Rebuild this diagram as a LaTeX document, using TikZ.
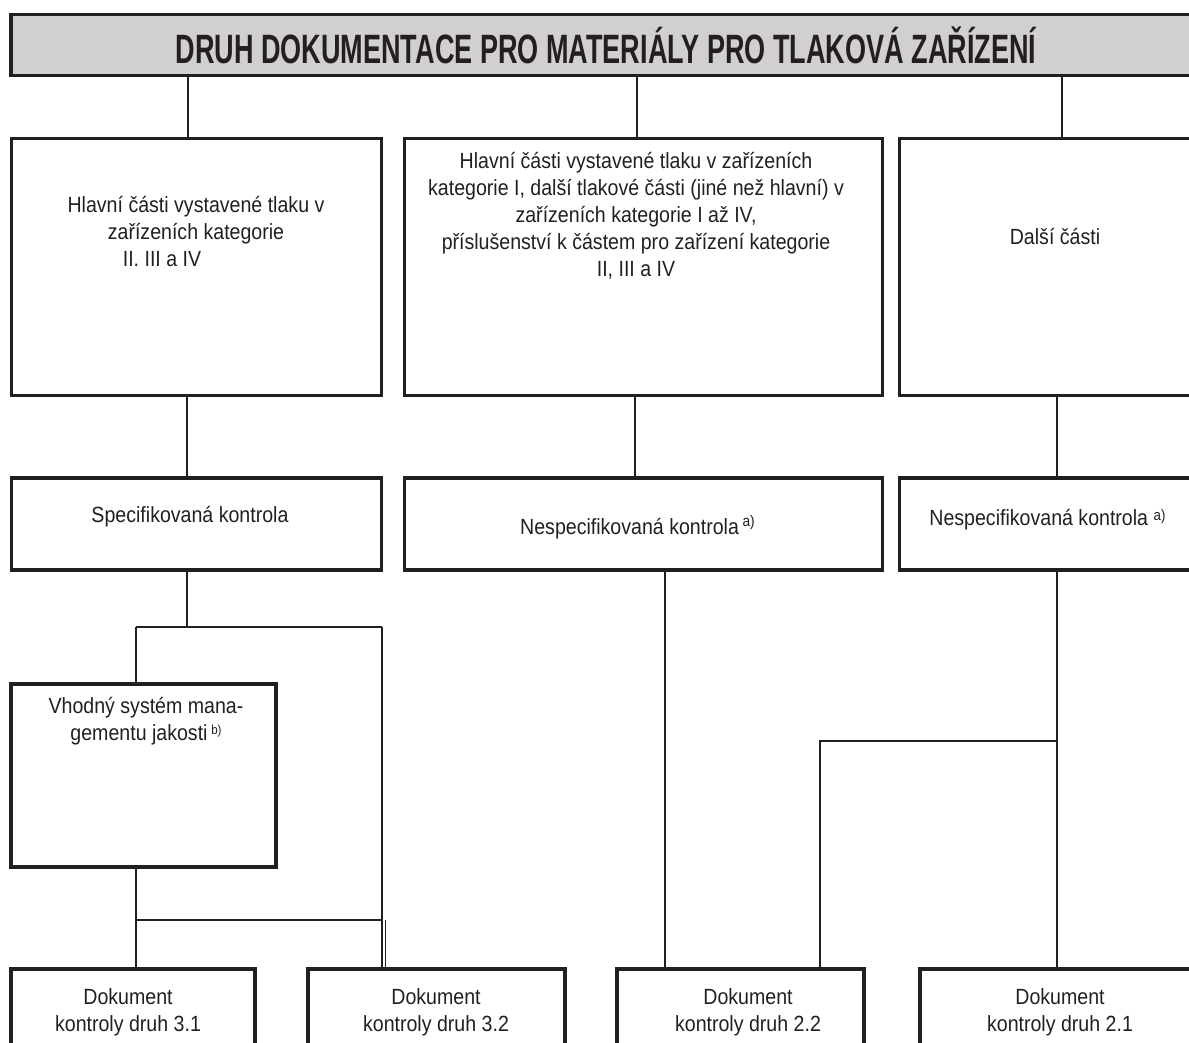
\documentclass[tikz,border=0pt]{standalone}
\usepackage{fontspec}
\setmainfont{Liberation Sans}[FakeStretch=0.89]
\newfontfamily\titlefont{Liberation Sans}[FakeStretch=0.66]
\usetikzlibrary{positioning}
\definecolor{ink}{RGB}{35,31,32}
\definecolor{band}{RGB}{209,207,209}

\begin{document}
\begin{tikzpicture}[
      x=0.5pt,y=-0.5pt,
      box/.style={
        draw=ink,
        line width=1.7pt,
        inner sep=0pt
      },
      txt/.style={
        text=ink,
        inner sep=0pt,
        align=center,
        font=\fontsize{11}{13.5}\selectfont
      },
      link/.style={
        draw=ink,
        line width=0.65pt
      }
      ]
      \clip (0,0) rectangle (1189,1043);

      % title band
      \node[box,fill=band,minimum width=595pt,minimum height=30.5pt,
        text=ink,font=\titlefont\bfseries\fontsize{20.5}{22}\selectfont] at (606,45)
        (title) {DRUH DOKUMENTACE PRO MATERIÁLY PRO TLAKOVÁ ZAŘÍZENÍ};

      % first row
      \node[box,minimum width=185pt,minimum height=128.5pt] at (196.25,267)
        (partA) {};
      \node[box,minimum width=239pt,minimum height=128.5pt] at (643.5,267)
        (partB) {};
      \node[box,minimum width=180pt,minimum height=128.5pt] at (1079.5,267)
        (partC) {};
      \node[txt] at (196,232)
        (tA) {Hlavní části vystavené tlaku v\\zařízeních kategorie\\II. III a IV\hspace*{34pt}};
      \node[txt] at (636,216)
        (tB) {Hlavní části vystavené tlaku v zařízeních\\kategorie I, další tlakové části (jiné než hlavní) v\\zařízeních kategorie I až IV,\\příslušenství k částem pro zařízení kategorie\\II, III a IV};
      \node[txt] at (1055,237)
        (tC) {Další části};

      % second row
      \node[box,minimum width=185pt,minimum height=46pt] at (196.25,524)
        (spec) {};
      \node[box,minimum width=239pt,minimum height=46pt] at (643.5,524)
        (nesp1) {};
      \node[box,minimum width=180pt,minimum height=46pt] at (1079.5,524)
        (nesp2) {};
      \node[txt] at (190,517)
        (tS) {Specifikovaná kontrola};
      \node[txt] at (638,527)
        (tN1) {Nespecifikovaná kontrola\,\textsuperscript{a)}};
      \node[txt,anchor=west] at (929,520)
        (tN2) {Nespecifikovaná kontrola \raisebox{2.5pt}{\fontsize{7.5}{8}\selectfont a)}};

      % quality system
      \node[box,minimum width=132.5pt,minimum height=91.5pt] at (143.5,775.5)
        (qms) {};
      \node[txt] at (146,721)
        (tQ) {Vhodný systém mana-\\gementu jakosti\,\raisebox{3pt}{\fontsize{6.5}{7}\selectfont b)}};

      % inspection documents
      \node[box,minimum width=122pt,minimum height=70pt] at (133,1039)
        (doc31) {};
      \node[box,minimum width=128.5pt,minimum height=70pt] at (436.5,1039)
        (doc32) {};
      \node[box,minimum width=123.5pt,minimum height=70pt] at (740.5,1039)
        (doc22) {};
      \node[box,minimum width=170pt,minimum height=70pt] at (1090,1039)
        (doc21) {};
      \node[txt] at (128,1012)
        (t31) {Dokument\\kontroly druh 3.1};
      \node[txt] at (436,1012)
        (t32) {Dokument\\kontroly druh 3.2};
      \node[txt] at (748,1012)
        (t22) {Dokument\\kontroly druh 2.2};
      \node[txt] at (1060,1012)
        (t21) {Dokument\\kontroly druh 2.1};

      % columns of the connectors
      \coordinate (cA) at (188,0);
      \coordinate (cB) at (637,0);
      \coordinate (cC) at (1062,0);
      \coordinate (cS) at (187,0);
      \coordinate (cN1) at (635,0);
      \coordinate (cN2) at (1057,0);
      \coordinate (cD22) at (665,0);
      \coordinate (fL) at (136,627);
      \coordinate (fR) at (382,627);
      \coordinate (gL) at (136,920);
      \coordinate (gR) at (382,920);
      \coordinate (hL) at (820,741);
      \coordinate (hR) at (1057,741);

      \draw[link] (cA |- title.south) -- (cA |- partA.north);
      \draw[link] (cB |- title.south) -- (cB |- partB.north);
      \draw[link] (cC |- title.south) -- (cC |- partC.north);

      \draw[link] (cS |- partA.south) -- (cS |- spec.north);
      \draw[link] (cN1 |- partB.south) -- (cN1 |- nesp1.north);
      \draw[link] (cN2 |- partC.south) -- (cN2 |- nesp2.north);

      \draw[link] (cS |- spec.south) -- (cS |- fL);
      \draw[link] (fL) -- (fR);
      \draw[link] (fL) -- (fL |- qms.north);
      \draw[link] (fR) -- (fR |- doc32.north);
      \draw[link] (fL |- qms.south) -- (fL |- doc31.north);
      \draw[link] (gL) -- (gR);
      \draw[link] ([xshift=1.75pt]gR) -- ([xshift=1.75pt]gR |- doc32.north);

      \draw[link] (cD22 |- nesp1.south) -- (cD22 |- doc22.north);
      \draw[link] (cN2 |- nesp2.south) -- (cN2 |- doc21.north);
      \draw[link] (hR) -- (hL) -- (hL |- doc22.north);
    \end{tikzpicture}
\end{document}
